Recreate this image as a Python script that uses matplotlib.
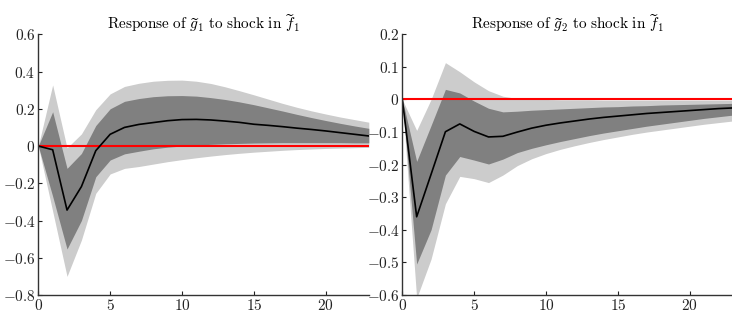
import matplotlib
matplotlib.use("Agg")
import matplotlib.pyplot as plt
from matplotlib.ticker import FuncFormatter, FixedLocator
import numpy as np

plt.rcParams['mathtext.fontset'] = 'cm'
plt.rcParams['font.family'] = 'serif'

horizon = list(range(24))

# Panel 1: response of g1 to shock in f1
g1_median = [0, -0.02, -0.344, -0.218, -0.025, 0.063, 0.10, 0.116, 0.126, 0.136, 0.142, 0.143,
             0.140, 0.134, 0.127, 0.117, 0.111, 0.104, 0.096, 0.089, 0.081, 0.072, 0.063, 0.054]
g1_inner_hi = [0, 0.184, -0.12, -0.04, 0.11, 0.20, 0.24, 0.255, 0.265, 0.27, 0.271, 0.268,
               0.26, 0.25, 0.237, 0.222, 0.205, 0.188, 0.17, 0.153, 0.137, 0.122, 0.108, 0.095]
g1_inner_lo = [0, -0.27, -0.553, -0.40, -0.165, -0.075, -0.042, -0.028, -0.015, -0.006, 0.0, 0.005,
               0.009, 0.012, 0.014, 0.016, 0.017, 0.018, 0.018, 0.018, 0.018, 0.018, 0.017, 0.017]
g1_outer_hi = [0, 0.328, -0.01, 0.065, 0.195, 0.28, 0.32, 0.337, 0.348, 0.353, 0.354, 0.348,
               0.336, 0.318, 0.297, 0.275, 0.252, 0.229, 0.208, 0.189, 0.172, 0.156, 0.142, 0.128]
g1_outer_lo = [0, -0.35, -0.70, -0.505, -0.254, -0.15, -0.12, -0.11, -0.097, -0.084, -0.073, -0.063,
               -0.054, -0.046, -0.039, -0.033, -0.028, -0.023, -0.019, -0.016, -0.013, -0.011, -0.009, -0.007]

# Panel 2: response of g2 to shock in f1
g2_median = [0, -0.36, -0.23, -0.099, -0.075, -0.098, -0.115, -0.113, -0.100, -0.088, -0.079, -0.072,
             -0.066, -0.060, -0.055, -0.051, -0.047, -0.043, -0.040, -0.037, -0.034, -0.031, -0.028, -0.026]
g2_inner_hi = [0, -0.19, -0.08, 0.031, 0.02, -0.005, -0.027, -0.038, -0.036, -0.033, -0.031, -0.029,
               -0.027, -0.025, -0.023, -0.022, -0.020, -0.019, -0.017, -0.016, -0.015, -0.014, -0.013, -0.012]
g2_inner_lo = [0, -0.505, -0.40, -0.232, -0.175, -0.186, -0.198, -0.183, -0.163, -0.150, -0.139, -0.129,
               -0.120, -0.111, -0.103, -0.096, -0.089, -0.082, -0.076, -0.070, -0.064, -0.058, -0.053, -0.048]
g2_outer_hi = [0, -0.095, 0.0, 0.113, 0.085, 0.054, 0.027, 0.01, 0.003, 0.001, 0.0, -0.001,
               -0.001, -0.001, -0.002, -0.002, -0.002, -0.002, -0.002, -0.002, -0.002, -0.002, -0.002, -0.002]
g2_outer_lo = [0, -0.61, -0.49, -0.32, -0.236, -0.243, -0.255, -0.232, -0.203, -0.182, -0.166, -0.153,
               -0.142, -0.132, -0.123, -0.115, -0.107, -0.100, -0.094, -0.088, -0.082, -0.076, -0.071, -0.066]

titles = [r"$\mathrm{Response\ of\ }\widetilde{g}_1\mathrm{\ to\ shock\ in\ }\widetilde{f}_1$",
          r"$\mathrm{Response\ of\ }\widetilde{g}_2\mathrm{\ to\ shock\ in\ }\widetilde{f}_1$"]
ylims = [(-0.8, 0.6), (-0.6, 0.2)]
yticks = [[-0.8, -0.6, -0.4, -0.2, 0, 0.2, 0.4, 0.6],
          [-0.6, -0.5, -0.4, -0.3, -0.2, -0.1, 0, 0.1, 0.2]]
xticks = [0, 5, 10, 15, 20]

panels = [
    (g1_median, g1_inner_lo, g1_inner_hi, g1_outer_lo, g1_outer_hi),
    (g2_median, g2_inner_lo, g2_inner_hi, g2_outer_lo, g2_outer_hi),
]

def fmt(v, pos):
    if abs(v) < 1e-9:
        return r"$0$"
    return r"$%g$" % round(v, 2)

fig = plt.figure(figsize=(7.32, 3.10), dpi=100)
lefts = [38.3 / 732, 402.3 / 732]
w = 330.5 / 732
bottom = 15 / 310
h = 260.7 / 310

for i, (med, ilo, ihi, olo, ohi) in enumerate(panels):
    ax = fig.add_axes([lefts[i], bottom, w, h])
    x = np.array(horizon)
    ax.fill_between(x, olo, ohi, color='#cccccc', linewidth=0)
    ax.fill_between(x, ilo, ihi, color='#808080', linewidth=0)
    ax.axhline(0, color='#ff0000', linewidth=1.5)
    ax.plot(x, med, color='black', linewidth=1.2)
    ax.set_xlim(0, 23)
    ax.set_ylim(*ylims[i])
    ax.yaxis.set_major_locator(FixedLocator(yticks[i]))
    ax.xaxis.set_major_locator(FixedLocator(xticks))
    ax.yaxis.set_major_formatter(FuncFormatter(fmt))
    ax.xaxis.set_major_formatter(FuncFormatter(fmt))
    for s in ['top', 'right']:
        ax.spines[s].set_visible(False)
    for s in ['left', 'bottom']:
        ax.spines[s].set_color('#333333')
        ax.spines[s].set_linewidth(1.0)
    ax.tick_params(direction='in', length=3, width=0.8, labelsize=11, pad=2, colors='#222222')
    ax.set_title(titles[i], fontsize=11, pad=4)

fig.savefig('out.png', dpi=100)
